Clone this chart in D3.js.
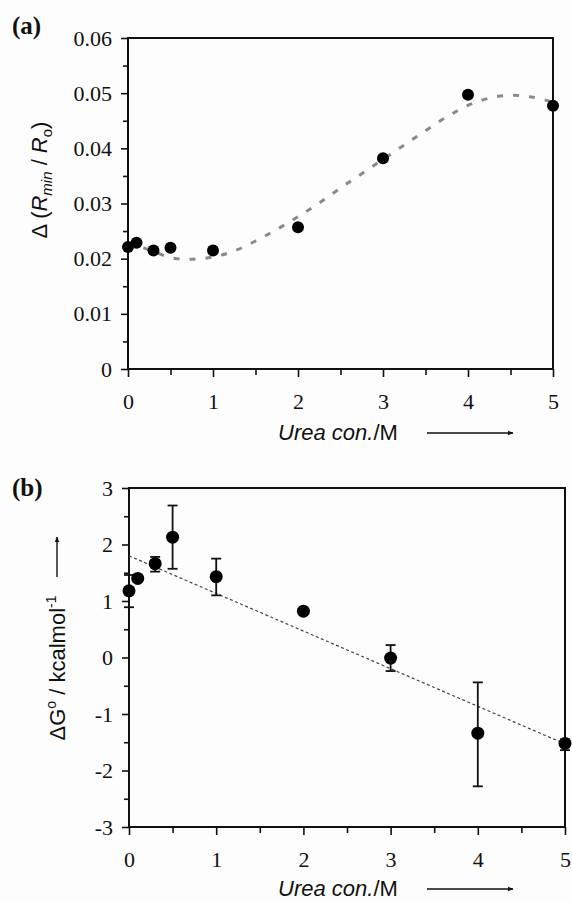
<!DOCTYPE html>
<html>
<head>
<meta charset="utf-8">
<script src="https://cdn.jsdelivr.net/npm/d3@7"></script>
<style>
  body { margin: 0; background: #fff; }
  .tick text { font-family: "Liberation Serif", "Times New Roman", serif; font-size: 22px; fill: #111; }
  .ttl { font-family: "Liberation Sans", Arial, sans-serif; font-size: 22px; fill: #111; }
  .plab { font-family: "Liberation Serif", "Times New Roman", serif; font-size: 25px; font-weight: bold; fill: #111; }
</style>
</head>
<body>
<div id="chart"></div>
<script>
// panel (a): ratio change vs urea
const ureaA = [0, 0.1, 0.3, 0.5, 1, 2, 3, 4, 5];
const ratioA = [0.0221, 0.0229, 0.0215, 0.0220, 0.0215, 0.0257, 0.0382, 0.0497, 0.0477];
const fitXA = [0, 0.25, 0.5, 0.75, 1, 1.25, 1.5, 1.75, 2, 2.25, 2.5, 2.75, 3, 3.25, 3.5, 3.75, 4, 4.25, 4.5, 4.75, 5];
const fitYA = [0.0228, 0.0216, 0.0202, 0.0199, 0.0203, 0.0214, 0.0232, 0.0253, 0.0276, 0.0301, 0.0328, 0.0354,
               0.0380, 0.0406, 0.0432, 0.0457, 0.0478, 0.0491, 0.0496, 0.0493, 0.0484];
const yTicksA = [0, 0.01, 0.02, 0.03, 0.04, 0.05, 0.06];
const yLabelsA = ["0", "0.01", "0.02", "0.03", "0.04", "0.05", "0.06"];

// panel (b): free energy vs urea
const ureaB = [0, 0.1, 0.3, 0.5, 1, 2, 3, 4, 5];
const dG = [1.18, 1.40, 1.66, 2.13, 1.43, 0.82, -0.01, -1.34, -1.52];
const dGHi = [1.46, 1.40, 1.78, 2.69, 1.75, 0.86, 0.22, -0.44, -1.45];
const dGLo = [0.89, 1.40, 1.52, 1.57, 1.10, 0.78, -0.24, -2.28, -1.64];
const fitXB = [0, 5];
const fitYB = [1.80, -1.53];
const yTicksB = [-3, -2, -1, 0, 1, 2, 3];
const yLabelsB = ["-3", "-2", "-1", "0", "1", "2", "3"];

const xTicks = [0, 1, 2, 3, 4, 5];
const xLabels = ["0", "1", "2", "3", "4", "5"];

const svg = d3.select("#chart").append("svg")
    .attr("width", 572)
    .attr("height", 902);

svg.append("rect").attr("width", 572).attr("height", 902).attr("fill", "#fdfdfd");

const drawFrame = (x, y, yTicks, yLabels, yMinor) => {
    const g = svg.append("g");

    g.append("g")
        .attr("transform", `translate(0,${y.range()[0]})`)
        .call(d3.axisBottom(x).tickValues(d3.range(0.5, 5, 1)).tickSize(6).tickFormat(""));
    g.append("g")
        .attr("transform", `translate(0,${y.range()[0]})`)
        .call(d3.axisBottom(x).tickValues(xTicks).tickSize(8).tickPadding(16)
            .tickFormat((d, i) => xLabels[i]));

    g.append("g")
        .attr("transform", `translate(${x.range()[0]},0)`)
        .call(d3.axisLeft(y).tickValues(yMinor).tickSize(5).tickFormat(""));
    g.append("g")
        .attr("transform", `translate(${x.range()[0]},0)`)
        .call(d3.axisLeft(y).tickValues(yTicks).tickSize(7).tickPadding(9)
            .tickFormat((d, i) => yLabels[i]));

    g.selectAll(".domain").remove();
    g.selectAll(".tick line").attr("stroke", "#111").attr("stroke-width", 1.6);

    g.append("rect")
        .attr("x", x.range()[0])
        .attr("y", y.range()[1])
        .attr("width", x.range()[1] - x.range()[0])
        .attr("height", y.range()[0] - y.range()[1])
        .attr("fill", "none")
        .attr("stroke", "#111")
        .attr("stroke-width", 2);
    return g;
};

const arrowDefs = svg.append("defs");
arrowDefs.append("marker")
    .attr("id", "head")
    .attr("viewBox", "0 0 10 10")
    .attr("refX", 9).attr("refY", 5)
    .attr("markerWidth", 6).attr("markerHeight", 6)
    .attr("markerUnits", "userSpaceOnUse")
    .attr("orient", "auto")
    .append("path").attr("d", "M0,1 L10,5 L0,9 z").attr("fill", "#111");

const xTitle = (yBase) => {
    const t = svg.append("text").attr("class", "ttl")
        .attr("x", 278).attr("y", yBase);
    t.append("tspan").attr("font-style", "italic").text("Urea con.");
    t.append("tspan").text("/M");
    svg.append("line")
        .attr("x1", 427).attr("x2", 513)
        .attr("y1", yBase - 7).attr("y2", yBase - 7)
        .attr("stroke", "#111").attr("stroke-width", 1.4)
        .attr("marker-end", "url(#head)");
};

// ---- panel (a)
const xA = d3.scaleLinear().domain([0, 5]).range([128, 553]);
const yA = d3.scaleLinear().domain([0, 0.06]).range([369, 38]);

const gA = drawFrame(xA, yA, yTicksA, yLabelsA, d3.range(0.005, 0.06, 0.01));

gA.append("path")
    .datum(fitXA.map((d, i) => [d, fitYA[i]]))
    .attr("d", d3.line().x(d => xA(d[0])).y(d => yA(d[1])).curve(d3.curveCatmullRom))
    .attr("fill", "none")
    .attr("stroke", "#8a8a8a")
    .attr("stroke-width", 3)
    .attr("stroke-dasharray", "6,10");

gA.selectAll(".dotA")
    .data(ureaA)
    .join("circle")
    .attr("cx", d => xA(d))
    .attr("cy", (d, i) => yA(ratioA[i]))
    .attr("r", 6)
    .attr("fill", "#000");

svg.append("text").attr("class", "plab").attr("x", 12).attr("y", 34).text("(a)");

const yTitleA = svg.append("text").attr("class", "ttl")
    .attr("font-size", "23px")
    .attr("text-anchor", "middle")
    .attr("transform", "translate(47,180) rotate(-90)");
yTitleA.append("tspan").text("\u0394 (");
yTitleA.append("tspan").attr("font-style", "italic").text("R");
yTitleA.append("tspan").attr("font-style", "italic").attr("font-size", "15px").attr("dy", 5).text("min");
yTitleA.append("tspan").attr("dy", -5).text(" / ");
yTitleA.append("tspan").attr("font-style", "italic").text("R");
yTitleA.append("tspan").attr("font-size", "15px").attr("dy", 5).text("o");
yTitleA.append("tspan").attr("dy", -5).text(")");

xTitle(440);

// ---- panel (b)
const xB = d3.scaleLinear().domain([0, 5]).range([129, 565]);
const yB = d3.scaleLinear().domain([-3, 3]).range([827, 488]);

const gB = drawFrame(xB, yB, yTicksB, yLabelsB, d3.range(-2.5, 3, 1));

gB.append("path")
    .datum(fitXB.map((d, i) => [d, fitYB[i]]))
    .attr("d", d3.line().x(d => xB(d[0])).y(d => yB(d[1])))
    .attr("fill", "none")
    .attr("stroke", "#444")
    .attr("stroke-width", 1.2)
    .attr("stroke-dasharray", "3,2.5");

const bars = gB.selectAll(".err")
    .data(ureaB.map((d, i) => ({ x: d, lo: dGLo[i], hi: dGHi[i] })).filter(d => d.hi > d.lo))
    .join("g")
    .attr("stroke", "#111")
    .attr("stroke-width", 1.8);
bars.append("line")
    .attr("x1", d => xB(d.x)).attr("x2", d => xB(d.x))
    .attr("y1", d => yB(d.lo)).attr("y2", d => yB(d.hi));
bars.append("line")
    .attr("x1", d => xB(d.x) - 5).attr("x2", d => xB(d.x) + 5)
    .attr("y1", d => yB(d.hi)).attr("y2", d => yB(d.hi));
bars.append("line")
    .attr("x1", d => xB(d.x) - 5).attr("x2", d => xB(d.x) + 5)
    .attr("y1", d => yB(d.lo)).attr("y2", d => yB(d.lo));

gB.selectAll(".dotB")
    .data(ureaB)
    .join("circle")
    .attr("cx", d => xB(d))
    .attr("cy", (d, i) => yB(dG[i]))
    .attr("r", 6.5)
    .attr("fill", "#000");

svg.append("text").attr("class", "plab").attr("x", 12).attr("y", 496).text("(b)");

const yTitleB = svg.append("text").attr("class", "ttl")
    .attr("text-anchor", "middle")
    .attr("transform", "translate(65,668) rotate(-90)");
yTitleB.append("tspan").text("\u0394G");
yTitleB.append("tspan").attr("font-size", "14px").attr("dy", -9).text("o");
yTitleB.append("tspan").attr("dy", 9).text(" / kcalmol");
yTitleB.append("tspan").attr("font-size", "14px").attr("dy", -9).text("-1");

svg.append("line")
    .attr("x1", 57).attr("x2", 57)
    .attr("y1", 577).attr("y2", 537)
    .attr("stroke", "#111").attr("stroke-width", 1.4)
    .attr("marker-end", "url(#head)");

xTitle(896);
</script>
</body>
</html>
